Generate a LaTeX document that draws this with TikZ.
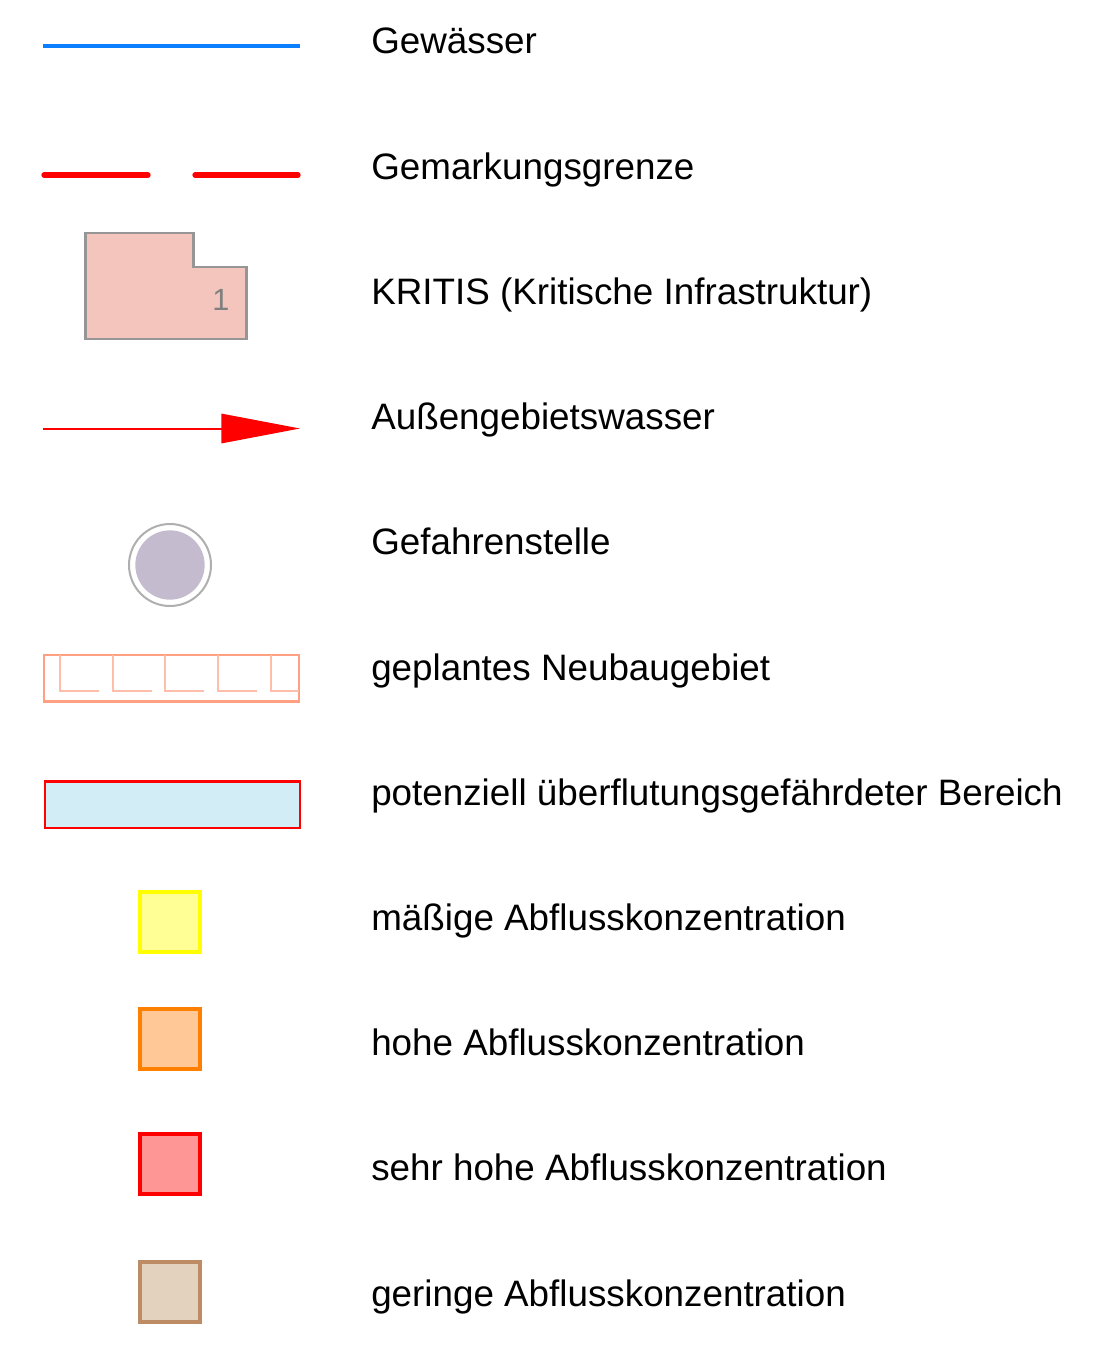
\documentclass[tikz,border=0pt]{standalone}
\usepackage{fontspec}
\setmainfont{Liberation Sans}
\usetikzlibrary{arrows.meta}
\definecolor{wasser}{RGB}{10,127,255}
\definecolor{grenze}{RGB}{255,0,0}
\definecolor{kritisfill}{RGB}{243,197,188}
\definecolor{kritisline}{RGB}{150,150,150}
\definecolor{gefahrfill}{RGB}{196,188,206}
\definecolor{gefahrline}{RGB}{175,175,175}
\definecolor{neuline}{RGB}{255,160,130}
\definecolor{neuinner}{RGB}{255,190,170}
\definecolor{flutfill}{RGB}{210,237,245}
\definecolor{gelbline}{RGB}{255,255,0}
\definecolor{gelbfill}{RGB}{255,255,150}
\definecolor{orangeline}{RGB}{255,128,0}
\definecolor{orangefill}{RGB}{255,200,150}
\definecolor{rotline}{RGB}{255,0,0}
\definecolor{rotfill}{RGB}{255,150,150}
\definecolor{braunline}{RGB}{190,140,100}
\definecolor{braunfill}{RGB}{226,210,190}
\begin{document}
\begin{tikzpicture}[x=0.75pt,y=-0.75pt,
  lbl/.style={anchor=base west,inner sep=0pt,font=\fontsize{27.6pt}{33pt}\selectfont,text=black},
  sq/.style={minimum width=45pt,minimum height=45pt,inner sep=0pt,line width=2.4pt,draw=#1line,fill=#1fill}]
\useasboundingbox (0,0) rectangle (1118,1345);
% Gewässer
\coordinate (g1) at (43,46);
\coordinate (g2) at (300,46);
\draw[wasser,line width=3pt] (g1) -- (g2);
\node[lbl] (tg) at (371,54) {Gewässer};
% Gemarkungsgrenze
\coordinate (m1) at (44,175);
\coordinate (m2) at (148,175);
\coordinate (m3) at (195,175);
\coordinate (m4) at (298,175);
\draw[grenze,line width=4pt,line cap=round] (m1) -- (m2) (m3) -- (m4);
\node[lbl] (tm) at (371,179.2) {Gemarkungsgrenze};
% KRITIS
\draw[kritisline,fill=kritisfill,line width=1.6pt]
  (85.5,233) -- (193.5,233) -- (193.5,267) -- (246.5,267) -- (246.5,339) -- (85.5,339) -- cycle;
\node[anchor=base,inner sep=0pt,text=kritisline!85!black,font=\fontsize{23pt}{27pt}\selectfont] (k1) at (221,310) {1};
\node[lbl] (tk) at (371,304.4) {KRITIS (Kritische Infrastruktur)};
% Außengebietswasser
\coordinate (a1) at (43,428.5);
\coordinate (a2) at (300,428.5);
\draw[grenze,line width=1.5pt,-{Triangle[length=59pt,width=22pt]}] (a1) -- (a2);
\node[lbl] (ta) at (371,429.6) {Außengebietswasser};
% Gefahrenstelle
\node[circle,draw=gefahrline,line width=1.5pt,minimum size=61.5pt,inner sep=0pt] (ring) at (170,565) {};
\node[circle,fill=gefahrfill,minimum size=52pt,inner sep=0pt] (dot) at (170,565) {};
\node[lbl] (tf) at (371,554.8) {Gefahrenstelle};
% Neubaugebiet
\draw[neuline,line width=1.6pt] (44,655) rectangle (299,701.5);
\foreach \x in {60,112.6,165.2,217.8} {
  \draw[neuinner,line width=1.6pt] (\x,655) -- (\x,691) -- (\x+39,691);
}
\draw[neuinner,line width=1.6pt] (270.6,655) -- (270.6,691) -- (299,691);
\node[lbl] (tn) at (371,680) {geplantes Neubaugebiet};
% überflutungsgefährdet
\draw[grenze,fill=flutfill,line width=2pt] (45,781.5) rectangle (300,828);
\node[lbl] (tu) at (371,805.2) {potenziell überflutungsgefährdeter Bereich};
% Abflusskonzentration
\node[sq=gelb] (s1) at (170,922) {};
\node[lbl] (t1) at (371,930.4) {mäßige Abflusskonzentration};
\node[sq=orange] (s2) at (170,1039) {};
\node[lbl] (t2) at (371,1055.6) {hohe Abflusskonzentration};
\node[sq=rot] (s3) at (170,1164) {};
\node[lbl] (t3) at (371,1180.8) {sehr hohe Abflusskonzentration};
\node[sq=braun] (s4) at (170,1292) {};
\node[lbl] (t4) at (371,1306) {geringe Abflusskonzentration};
\end{tikzpicture}
\end{document}
